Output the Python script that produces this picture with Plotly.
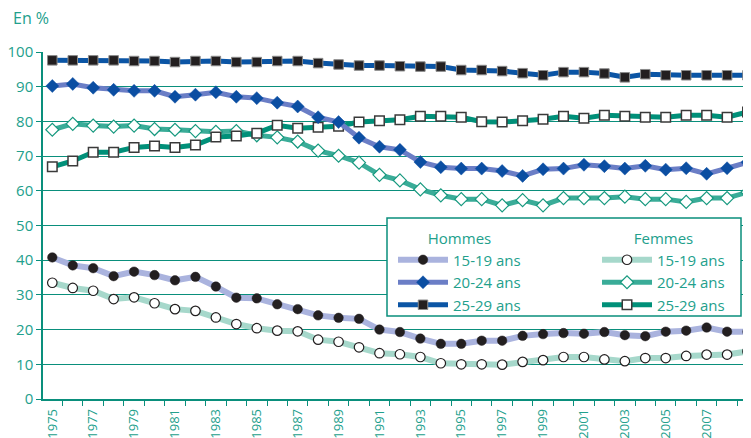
import plotly.graph_objects as go
import numpy as np

years = list(range(1975, 2010))

hommes_15_19 = [40.8, 38.5, 37.7, 35.4, 36.7, 35.7, 34.2, 35.2, 32.4, 29.2, 29.0, 27.3, 25.9, 24.1, 23.4, 23.1, 20.0, 19.3, 17.4, 15.9, 15.9, 16.8, 16.8, 18.2, 18.7, 19.0, 18.8, 19.3, 18.4, 18.1, 19.4, 19.7, 20.6, 19.4, 19.4]
hommes_20_24 = [90.2, 90.8, 89.7, 89.1, 88.8, 88.8, 87.1, 87.7, 88.4, 87.1, 86.7, 85.4, 84.3, 81.2, 79.8, 75.3, 72.7, 71.8, 68.3, 66.8, 66.4, 66.4, 65.7, 64.3, 66.2, 66.4, 67.5, 67.1, 66.4, 67.2, 66.1, 66.5, 64.9, 66.5, 68.2]
hommes_25_29 = [97.6, 97.6, 97.6, 97.6, 97.4, 97.4, 97.1, 97.4, 97.4, 97.1, 97.1, 97.4, 97.4, 96.8, 96.4, 96.1, 96.1, 95.9, 95.8, 95.8, 94.8, 94.8, 94.5, 93.9, 93.3, 94.2, 94.2, 93.8, 92.7, 93.6, 93.3, 93.3, 93.3, 93.3, 93.3]
femmes_15_19 = [33.5, 32.0, 31.2, 28.8, 29.3, 27.6, 25.9, 25.4, 23.5, 21.6, 20.4, 19.7, 19.5, 17.1, 16.5, 14.9, 13.2, 12.9, 12.1, 10.3, 10.0, 10.0, 9.9, 10.7, 11.2, 12.1, 12.1, 11.4, 10.9, 11.8, 11.8, 12.4, 12.8, 12.8, 13.7]
femmes_20_24 = [77.6, 79.3, 78.8, 78.5, 78.8, 77.8, 77.6, 77.2, 77.0, 77.2, 76.0, 75.4, 74.2, 71.6, 70.1, 68.1, 64.6, 63.0, 60.4, 58.7, 57.6, 57.6, 55.8, 57.3, 55.8, 57.9, 57.9, 57.9, 58.3, 57.6, 57.6, 56.8, 57.9, 57.9, 59.6]
femmes_25_29 = [66.9, 68.6, 71.1, 71.1, 72.5, 72.9, 72.5, 73.2, 75.5, 75.8, 76.6, 78.9, 78.0, 78.3, 78.6, 79.8, 80.2, 80.5, 81.5, 81.5, 81.2, 79.9, 79.8, 80.2, 80.6, 81.5, 80.9, 81.8, 81.5, 81.2, 81.2, 81.8, 81.8, 81.2, 82.7]

x_tick_years = list(range(1975, 2010, 2))
y_ticks = list(range(0, 101, 10))

TEAL = "#0a8f7c"
TEXT = "#22a08c"
FONT = "Open Sans"

fig = go.Figure()

def add(name, y, line_color, lw, symbol, size, mfill, mline, mlw, legend, rank):
    fig.add_trace(go.Scatter(
        x=years, y=y, name=name, mode="lines+markers",
        line=dict(color=line_color, width=lw),
        marker=dict(symbol=symbol, size=size, color=mfill,
                    line=dict(color=mline, width=mlw)),
        legend=legend, legendrank=rank,
    ))

add("15-19 ans", femmes_15_19, "#a6d8cb", 6, "circle", 9.5, "white", "#231f20", 1.2, "legend2", 1)
add("15-19 ans", hommes_15_19, "#aab3de", 6, "circle", 9.5, "#231f20", "#231f20", 0.5, "legend", 1)
add("20-24 ans", femmes_20_24, "#3aac98", 5, "diamond", 10, "white", "#17997f", 1.2, "legend2", 2)
add("25-29 ans", femmes_25_29, "#009079", 5, "square", 9.5, "white", "#3a3a3a", 1.5, "legend2", 3)
add("20-24 ans", hommes_20_24, "#6b7ec6", 5, "diamond", 10, "#0b4ea2", "#0b4ea2", 0.5, "legend", 2)
add("25-29 ans", hommes_25_29, "#0b55a5", 5, "square", 9.5, "#231f20", "#8a8a8a", 1, "legend", 3)

fig.update_layout(
    width=743, height=430,
    margin=dict(l=35, r=0, t=44, b=39, autoexpand=False),
    paper_bgcolor="white", plot_bgcolor="white",
    font=dict(family=FONT, color=TEXT, size=15),
    xaxis=dict(
        range=[1974.545, 2009.17], automargin=False,
        tickmode="array", tickvals=x_tick_years,
        ticktext=[str(v) for v in x_tick_years],
        tickangle=-90, ticks="", ticklabelstandoff=3,
        tickfont=dict(size=13, color=TEXT),
        showgrid=False, zeroline=False,
        showline=True, linecolor=TEAL, linewidth=1.5,
        minor=dict(tickmode="array",
                   tickvals=list(np.arange(1974.5, 2010, 1.0)),
                   ticks="outside", ticklen=5, tickcolor=TEAL, tickwidth=1.2,
                   showgrid=False),
    ),
    yaxis=dict(
        range=[0, 100], tickmode="array", tickvals=y_ticks, automargin=False,
        ticks="outside", ticklen=5, tickcolor=TEAL, tickwidth=1.2,
        tickfont=dict(size=15, color=TEXT),
        showgrid=True, gridcolor=TEAL, gridwidth=1.2,
        zeroline=False, showline=True, linecolor=TEAL, linewidth=1.5,
    ),
    legend=dict(
        title=dict(text="Hommes", side="top center", font=dict(size=15, color=TEXT)),
        x=(393 - 43) / 708, xanchor="left",
        y=(399 - 224) / 347, yanchor="top",
        bgcolor="rgba(0,0,0,0)", itemwidth=50,
        font=dict(size=15, color=TEXT), tracegroupgap=0,
    ),
    legend2=dict(
        title=dict(text="Femmes", side="top center", font=dict(size=15, color=TEXT)),
        x=(597 - 43) / 708, xanchor="left",
        y=(399 - 224) / 347, yanchor="top",
        bgcolor="rgba(0,0,0,0)", itemwidth=50,
        font=dict(size=15, color=TEXT), tracegroupgap=0,
    ),
    showlegend=True,
    shapes=[dict(type="rect", xref="paper", yref="paper",
                 x0=(387 - 43) / 708, x1=(741 - 43) / 708,
                 y0=(399 - 316) / 347, y1=(399 - 218) / 347,
                 line=dict(color=TEAL, width=1.5), fillcolor="white", layer="above")],
    annotations=[dict(text="En %", xref="paper", yref="paper",
                      x=(11 - 43) / 708, y=(399 - 18) / 347,
                      xanchor="left", yanchor="middle", showarrow=False,
                      font=dict(size=16, color=TEXT))],
)

fig.write_html("out.html")
